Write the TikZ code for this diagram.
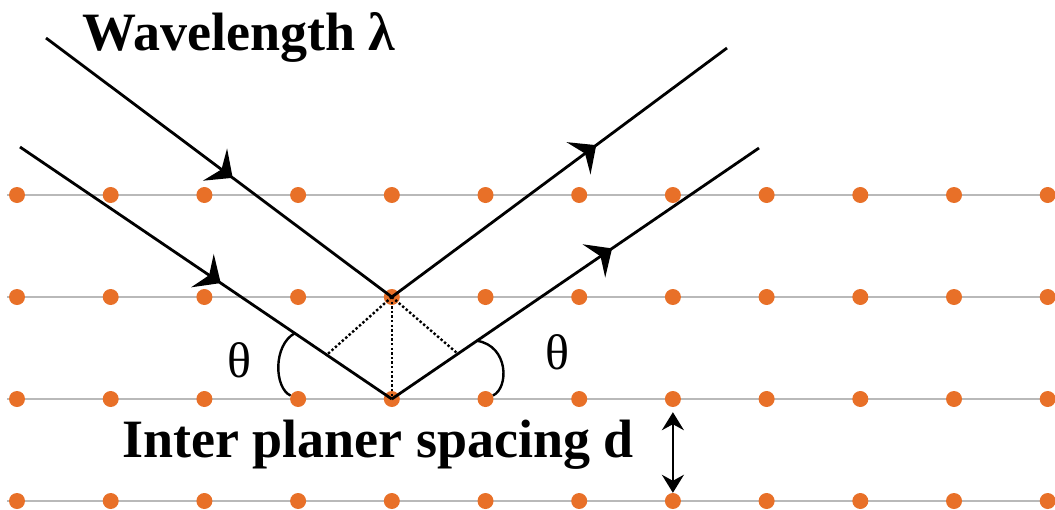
\documentclass[tikz,border=0pt]{standalone}
\usepackage{fontspec}
\setmainfont{Liberation Serif}
\usetikzlibrary{calc,arrows.meta,decorations.markings}
\definecolor{atom}{RGB}{232, 112, 40}
\definecolor{plane}{RGB}{185, 185, 185}

\begin{document}
\begin{tikzpicture}[
  x=1pt, y=-1pt,
  dot/.style={circle,fill=atom,inner sep=0pt,minimum size=16pt},
  ray/.style={line width=2.8pt,decoration={markings,
    mark=at position #1 with {\arrow{Stealth[length=22pt,width=40pt,inset=8pt]}}},
    postaction={decorate}},
  big/.style={font=\fontsize{54}{60}\selectfont\bfseries}
]
\useasboundingbox (0,0) rectangle (1055,509);
% lattice planes and atoms
\foreach \r in {1,...,4} {
  \coordinate (a\r) at (7,{195+102*(\r-1)});
  \coordinate (b\r) at (1055,{195+102*(\r-1)});
  \draw[plane,line width=2pt] (a\r) -- (b\r);
  \foreach \c in {1,...,12}
    \node[dot] (p\r-\c) at ({17+93.7*(\c-1)},{195+102*(\r-1)}) {};
}
% incident and reflected rays
\coordinate (in1) at (46,38);   \coordinate (out1) at (727,48);
\coordinate (in2) at (20,147);  \coordinate (out2) at (759,148);
\draw[ray=0.54] (in1) -- (p2-5.center);
\draw[ray=0.61] (p2-5.center) -- (out1);
\draw[ray=0.54] (in2) -- (p3-5.center);
\draw[ray=0.60] (p3-5.center) -- (out2);
% path difference
\coordinate (fl) at ($(in2)!0.825!(p3-5.center)$);
\coordinate (fr) at ($(p3-5.center)!0.18!(out2)$);
\draw[line width=2.4pt,dash pattern=on 2.4pt off 2.2pt] (p2-5.center) -- (p3-5.center);
\draw[line width=2.4pt,dash pattern=on 2.4pt off 2.2pt] (p2-5.center) -- (fl);
\draw[line width=2.4pt,dash pattern=on 2.4pt off 2.2pt] (p2-5.center) -- (fr);
% angles
\coordinate (la) at ($(in2)!0.739!(p3-5.center)$);
\coordinate (ra) at ($(p3-5.center)!0.232!(out2)$);
\draw[line width=2.4pt] (la) .. controls (273,345) and (274,388) .. (p3-4);
\draw[line width=2.4pt] (ra) .. controls (509,346) and (509,388) .. (p3-6);
\node[font=\fontsize{50}{50}\selectfont] (thl) at (239,360) {θ};
\node[font=\fontsize{50}{50}\selectfont] (thr) at (557,352) {θ};
% labels
\node[big,anchor=base west,inner sep=0pt] (wave) at (82,50) {Wavelength λ};
\node[big,anchor=base west,inner sep=0pt] (gap) at (122,457) {Inter planer spacing d};
\draw[line width=2.4pt,{Stealth[length=18pt,width=22pt,inset=6pt]}-{Stealth[length=18pt,width=22pt,inset=6pt]},shorten <=5pt] (p3-8) -- (p4-8);
\end{tikzpicture}
\end{document}
